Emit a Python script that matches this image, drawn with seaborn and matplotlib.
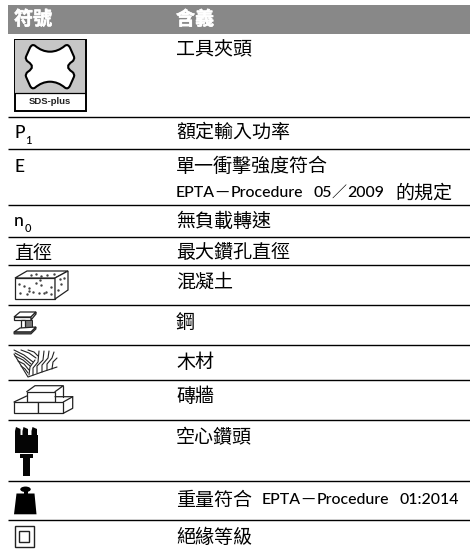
# Symbol table with icons
import matplotlib
matplotlib.use("Agg")
import matplotlib.pyplot as plt
import seaborn as sns
import matplotlib.patheffects as pe
from matplotlib.patches import Polygon, Rectangle, Ellipse, PathPatch
from matplotlib.path import Path

header = ["符號", "含義"]
symbols = ["P", "E", "n", "直徑"]
symbol_subs = ["1", "", "0", ""]
symbol_y = [133, 167, 221, 253]
meanings = ["工具夾頭", "額定輸入功率", "單一衝擊強度符合", "無負載轉速", "最大鑽孔直徑",
            "混凝土", "鋼", "木材", "磚牆", "空心鑽頭", "重量符合", "絕緣等級"]
meaning_y = [50, 133, 167, 221, 253, 282, 322, 362, 397, 438, 500, 537]
# mixed lines, split in pieces because the latin part is narrower
mixed_text = ["EPTA", "—", "Procedure", "05", "／", "2009", "的規定",
              "EPTA", "—", "Procedure", "01:2014"]
mixed_x = [176, 215, 231, 313, 331, 347, 395,
           262, 301, 317, 399]
mixed_y = [193] * 7 + [500] * 4
rules = [117, 149, 205, 237, 265, 305, 345, 380, 420, 481, 520]

sns.set_theme(style="white")
CJK = ["Noto Sans CJK TC", "DejaVu Sans"]
LATIN = ["Lato", "DejaVu Sans"]
plt.rcParams["font.family"] = CJK

fig = plt.figure(figsize=(4.7, 5.5), dpi=100)
ax = fig.add_axes([0, 0, 1, 1])
ax.set_xlim(0, 470)
ax.set_ylim(550, 0)
ax.axis("off")

# header band
ax.add_patch(Rectangle((8, 5), 462, 29, fc="#888888", ec="none"))
for x, h in zip([14, 176], header):
    ax.text(x, 19.5, h, color="white", fontsize=13.7, fontweight="bold", va="center",
            path_effects=[pe.withStroke(linewidth=0.4, foreground="white")])

ax.hlines(rules, 8, 470, color="black", lw=1.0)

for s, sub, y in zip(symbols, symbol_subs, symbol_y):
    fam = CJK if len(s) > 1 else LATIN
    ax.text(14, y, s, fontsize=13.7 if len(s) > 1 else 12.5, va="center", color="black", family=fam,
            fontweight="medium")
    if sub:
        ax.text(25, y + 7, sub, fontsize=8, va="center", color="black", family=LATIN, fontweight="medium")

for m, y in zip(meanings, meaning_y):
    ax.text(176, y, m, fontsize=13.7, va="center", color="black")

for t, x, y in zip(mixed_text, mixed_x, mixed_y):
    if t == "的規定":
        ax.text(x, y, t, fontsize=13.7, va="center", color="black")
    elif t in ["—", "／"]:
        ax.text(x, y, t, fontsize=10.8, va="center", color="black")
    else:
        ax.text(x, y, t, fontsize=11.4, va="center", color="black", family=LATIN, fontweight="medium")

# SDS-plus icon
ax.add_patch(Rectangle((14.5, 39.5), 71, 71, fc="white", ec="black", lw=1.4))
ax.add_patch(Rectangle((15.2, 40.2), 69.6, 52.8, fc="#c6c6c6", ec="none"))
ax.plot([15, 85], [93.3, 93.3], color="black", lw=0.9)
ax.text(50, 102, "SDS-plus", fontsize=6.8, fontweight="bold", ha="center", va="center",
        family="Liberation Sans", color="#222222")
cx, cy = 50, 66.7
half = [((0, -15), Path.MOVETO), ((8, -15), Path.CURVE3), ((15, -21), Path.CURVE3),
        ((18, -23), Path.CURVE3), ((20, -19), Path.CURVE3), ((24, -10), Path.LINETO),
        ((25, -7), Path.CURVE3), ((22, -5), Path.CURVE3), ((14, 0), Path.CURVE3), ((22, 5), Path.CURVE3),
        ((25, 7), Path.CURVE3), ((24, 10), Path.CURVE3), ((20, 19), Path.LINETO),
        ((18, 23), Path.CURVE3), ((15, 21), Path.CURVE3), ((8, 15), Path.CURVE3), ((0, 15), Path.CURVE3)]
other = [((-p[0], -p[1]), c) for p, c in half[1:]]
pts = [(cx + p[0], cy + p[1]) for p, c in half + other]
codes = [c for p, c in half + other]
ax.add_patch(PathPatch(Path(pts, codes), fc="white", ec="black", lw=1.5))

# concrete block
ax.add_patch(Polygon([(15, 278), (55, 278), (55, 299), (15, 299)], fc="white", ec="#222222", lw=0.9))
ax.add_patch(Polygon([(15, 278), (27, 271), (68, 271), (55, 278)], fc="white", ec="#222222", lw=0.9))
ax.add_patch(Polygon([(55, 278), (68, 271), (68, 290), (55, 299)], fc="white", ec="#222222", lw=0.9))
dots_x = [19, 24, 29, 36, 41, 46, 51, 20, 27, 33, 39, 44, 51, 31, 36, 41, 47, 54, 60, 64, 61, 58, 40, 29]
dots_y = [284, 286, 291, 283, 285, 292, 287, 293, 294, 292, 293, 293, 294, 275, 274, 276, 275, 274, 279, 278, 284, 290, 280, 288]
ax.scatter(dots_x, dots_y, s=3, color="#444444", lw=0)

# steel beam
ax.add_patch(Polygon([(20, 312), (36, 312), (31, 317), (14, 317)], fc="white", ec="#222222", lw=0.9))
ax.add_patch(Rectangle((14, 317), 17, 3, fc="white", ec="#222222", lw=0.9))
ax.add_patch(Polygon([(31, 317), (36, 312), (36, 314), (31, 320)], fc="white", ec="#222222", lw=0.9))
ax.add_patch(Rectangle((25, 320), 7, 8, fc="#777777", ec="#222222", lw=0.7))
ax.add_patch(Rectangle((21, 320), 4, 8, fc="white", ec="#222222", lw=0.9))
ax.add_patch(Polygon([(20, 328), (36, 327), (31, 332), (14, 332)], fc="white", ec="#222222", lw=0.9))
ax.add_patch(Polygon([(14, 332), (31, 332), (36, 327), (36, 329), (31, 334), (14, 334)], fc="#555555", ec="#222222", lw=0.7))

# wood
wood_lines = [
    [(14, 354), (28, 377), (42, 372), (57, 367)],
    [(14, 350), (24, 355), (33, 362)], [(15, 353), (24, 358), (31, 364)], [(15, 356), (23, 360), (30, 366)],
    [(18, 361), (24, 364), (29, 370)], [(21, 366), (25, 369), (28, 373)], [(21, 350), (29, 353), (36, 358)],
    [(28, 350), (34, 352), (38, 356)],
    [(33, 375), (33, 368), (38, 362), (39, 351)], [(37, 373), (37, 366), (43, 360), (44, 351)],
    [(42, 372), (42, 365), (48, 358), (49, 351)], [(47, 370), (47, 364), (52, 358), (54, 352)],
    [(52, 369), (53, 362), (57, 358)], [(29, 375), (30, 367), (35, 360)],
]
for line in wood_lines:
    ax.plot(*zip(*line), color="#222222", lw=0.8)

# masonry
for x0, y0, w, h in [(26.7, 391.7, 28.3, 10), (14, 402, 24.3, 11.3), (38.3, 402, 25, 11.3)]:
    ax.add_patch(Rectangle((x0, y0), w, h, fc="white", ec="#222222", lw=0.9))
mason_lines = [
    [(26.7, 391.7), (35, 385.7), (63.3, 385.7), (55, 391.7)],
    [(63.3, 385.7), (63.3, 396.7)],
    [(14, 402), (26.7, 396)],
    [(55, 396.7), (72.7, 396.7), (72.7, 408.3), (63.3, 413.3)],
    [(63.3, 402), (72.7, 396.7)],
]
for line in mason_lines:
    ax.plot(*zip(*line), color="#222222", lw=0.9)

# hollow drill
ax.add_patch(Rectangle((15, 435), 23, 17.7, fc="#050505", ec="none"))
for x0 in [15, 22.5, 31.5]:
    ax.add_patch(Polygon([(x0, 431), (x0 + 1, 427), (x0 + 5.5, 429), (x0 + 5.5, 435), (x0, 435)], fc="#050505", ec="none"))
ax.add_patch(Rectangle((20, 454), 13, 3.5, fc="#050505", ec="none"))
ax.add_patch(Rectangle((23.3, 455), 6.7, 20.7, fc="#050505", ec="none"))

# weight
ax.add_patch(Polygon([(16.5, 493.5), (34.5, 493.5), (36.5, 514.3), (14, 514.3)], fc="black", ec="none"))
ax.add_patch(Ellipse((25.5, 489.3), 10.5, 5.5, fc="black", ec="none"))
ax.add_patch(Rectangle((23.5, 490), 4, 5, fc="black", ec="none"))

# protection class
ax.add_patch(Rectangle((14.5, 526), 19.5, 20.5, fc="white", ec="#222222", lw=1.0))
ax.add_patch(Rectangle((19.3, 531.2), 10, 10.3, fc="white", ec="#222222", lw=1.0))

fig.savefig("out.png", dpi=100)
